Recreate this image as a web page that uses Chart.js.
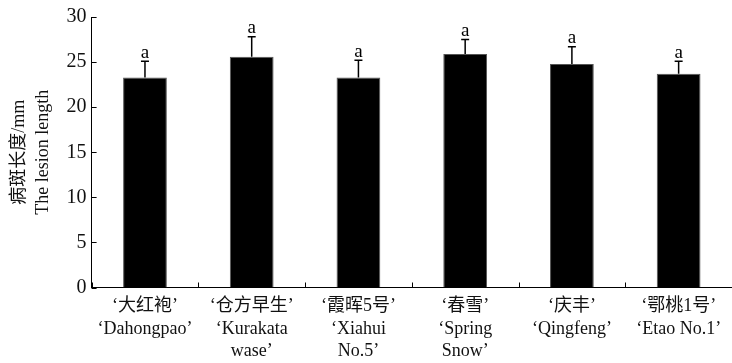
<!DOCTYPE html>
<html>
<head>
<meta charset="utf-8">
<script src="https://cdn.jsdelivr.net/npm/chart.js@4"></script>
<style>
  html, body { margin: 0; padding: 0; background: #fff; }
  #wrap { width: 732px; height: 363px; }
</style>
</head>
<body>
<div id="wrap"><canvas id="myChart" width="732" height="363"></canvas></div>
<script>
// cultivars on the x axis
var cultivars = [
    ['‘大红袍’', '‘Dahongpao’'],
    ['‘仓方早生’', '‘Kurakata', 'wase’'],
    ['‘霞晖5号’', '‘Xiahui', 'No.5’'],
    ['‘春雪’', '‘Spring', 'Snow’'],
    ['‘庆丰’', '‘Qingfeng’'],
    ['‘鄂桃1号’', '‘Etao No.1’']
];
// lesion length (mm) and upper error
var lesionLength = [23.3, 25.6, 23.3, 25.9, 24.8, 23.7];
var lesionError = [1.8, 2.2, 1.9, 1.6, 1.9, 1.4];
var letters = ['a', 'a', 'a', 'a', 'a', 'a'];
var yTicks = [0, 5, 10, 15, 20, 25, 30];

var serif = '"Liberation Serif", "DejaVu Serif", "Noto Sans CJK SC", serif';

// error bars, letters and inward ticks
var extrasPlugin = {
    id: 'extras',
    afterDatasetsDraw(chart) {
        const ctx = chart.ctx;
        const xs = chart.scales.x;
        const ys = chart.scales.y;
        const area = chart.chartArea;
        ctx.save();
        ctx.strokeStyle = '#000';
        ctx.lineWidth = 1.5;
        lesionLength.forEach((v, i) => {
            let x = xs.getPixelForValue(i);
            let y0 = ys.getPixelForValue(v);
            let y1 = ys.getPixelForValue(v + lesionError[i]);
            ctx.beginPath();
            ctx.moveTo(x, y0);
            ctx.lineTo(x, y1);
            ctx.moveTo(x - 4, y1);
            ctx.lineTo(x + 4, y1);
            ctx.stroke();
            ctx.fillStyle = '#000';
            ctx.font = '19px ' + serif;
            ctx.textAlign = 'center';
            ctx.textBaseline = 'bottom';
            ctx.fillText(letters[i], x, y1 + 1);
        });
        ctx.lineWidth = 1;
        // y ticks pointing inward
        yTicks.forEach((t) => {
            let y = Math.round(ys.getPixelForValue(t)) + 0.5;
            ctx.beginPath();
            ctx.moveTo(area.left, y);
            ctx.lineTo(area.left + 5, y);
            ctx.stroke();
        });
        // x ticks between categories
        for (let i = 0; i <= cultivars.length; i++) {
            let x = Math.round(xs.getPixelForValue(i - 0.5)) + 0.5;
            ctx.beginPath();
            ctx.moveTo(x, area.bottom);
            ctx.lineTo(x, area.bottom - 5);
            ctx.stroke();
        }
        ctx.restore();
    }
};

const data = {
    labels: cultivars,
    datasets: [{
        data: lesionLength,
        backgroundColor: '#000',
        borderColor: '#555',
        borderWidth: 1,
        categoryPercentage: 1,
        barPercentage: 0.41
    }]
};

const config = {
    type: 'bar',
    data: data,
    options: {
        responsive: false,
        animation: false,
        layout: { padding: { top: 6, right: 0, left: 7, bottom: -8 } },
        plugins: {
            legend: { display: false },
            tooltip: { enabled: false }
        },
        scales: {
            x: {
                grid: { display: false, drawTicks: false },
                border: { display: true, color: '#000', width: 1 },
                ticks: {
                    color: '#111',
                    padding: 8,
                    maxRotation: 0,
                    autoSkip: false,
                    font: { family: serif, size: 18, lineHeight: 1.25 }
                }
            },
            y: {
                min: 0,
                max: 30,
                grid: { display: false, drawTicks: false },
                border: { display: true, color: '#000', width: 1 },
                ticks: {
                    stepSize: 5,
                    color: '#111',
                    padding: 5,
                    font: { family: serif, size: 20 }
                },
                title: {
                    display: true,
                    text: ['病斑长度/mm', 'The lesion length'],
                    color: '#111',
                    padding: { top: 0, bottom: 6 },
                    font: { family: serif, size: 18, lineHeight: 1.35 }
                }
            }
        }
    },
    plugins: [extrasPlugin]
};

var myChart = new Chart(document.getElementById('myChart'), config);
</script>
</body>
</html>
